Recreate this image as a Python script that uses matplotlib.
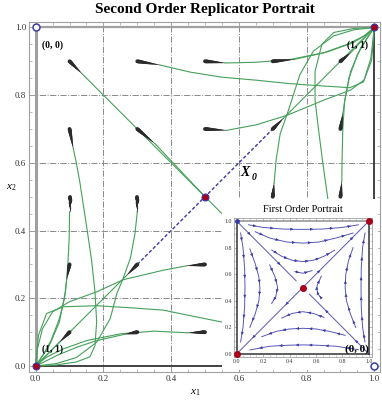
import matplotlib
matplotlib.use("Agg")
import matplotlib.pyplot as plt
from matplotlib.collections import LineCollection
from matplotlib.patches import Rectangle
import numpy as np

plt.rcParams['font.family'] = ['Liberation Serif', 'DejaVu Serif']
plt.rcParams['mathtext.fontset'] = 'custom'
plt.rcParams['mathtext.rm'] = 'Liberation Serif'
plt.rcParams['mathtext.it'] = 'Liberation Serif:italic'

# ---- data: second order trajectories (x list, y list) ----
path_01_09 = [[0.136, 0.60], [0.864, 0.40]]
path_03_07 = [[0.352, 0.50], [0.657, 0.50]]
path_03_09 = [[0.367, 0.456, 0.55, 0.653, 0.75, 0.849, 0.928, 0.968, 0.992, 1.0],
              [0.889, 0.868, 0.853, 0.844, 0.834, 0.827, 0.822, 0.839, 0.903, 1.0]]
path_05_09 = [[0.56, 0.65, 0.75, 0.85, 0.92, 0.97, 1.0],
              [0.895, 0.897, 0.905, 0.925, 0.95, 0.975, 1.0]]
path_07_09 = [[0.761, 0.859, 0.938, 0.975, 1.0],
              [0.905, 0.927, 0.955, 0.978, 1.0]]
path_09_09 = [[0.93, 1.0], [0.925, 1.0]]
path_05_07 = [[0.564, 0.65, 0.741, 0.85, 0.93, 0.97, 0.99, 1.0],
              [0.696, 0.712, 0.74, 0.785, 0.815, 0.845, 0.91, 1.0]]
path_07_07 = [[0.731, 1.0], [0.731, 1.0]]
path_09_07 = [[0.907, 0.913, 0.925, 0.95, 0.98, 1.0],
              [0.745, 0.785, 0.85, 0.92, 0.97, 1.0]]
path_07_05 = [[0.704, 0.710, 0.722, 0.743, 0.756, 0.78, 0.82, 0.88, 0.94, 1.0],
              [0.539, 0.608, 0.686, 0.745, 0.785, 0.86, 0.93, 0.975, 0.993, 1.0]]
path_09_05 = [[0.904, 0.905, 0.907, 0.912, 0.93, 0.96, 1.0],
              [0.544, 0.62, 0.70, 0.78, 0.87, 0.94, 1.0]]
path_09_03 = [[0.87, 0.864, 0.848, 0.835, 0.825, 0.825, 0.845, 0.88, 0.94, 1.0],
              [0.40, 0.485, 0.599, 0.70, 0.785, 0.87, 0.95, 0.985, 0.997, 1.0]]
path_01_07 = [[0.111, 0.12, 0.131, 0.152, 0.165, 0.175, 0.18, 0.175, 0.16, 0.12, 0.06, 0.0],
              [0.642, 0.60, 0.539, 0.401, 0.313, 0.22, 0.13, 0.06, 0.027, 0.012, 0.003, 0.0]]
path_01_05 = [[0.1, 0.099, 0.095, 0.088, 0.07, 0.04, 0.0],
              [0.455, 0.38, 0.30, 0.22, 0.13, 0.06, 0.0]]
path_03_05 = [[0.3, 0.293, 0.28, 0.257, 0.24, 0.22, 0.18, 0.12, 0.06, 0.0],
              [0.455, 0.39, 0.32, 0.255, 0.215, 0.14, 0.07, 0.025, 0.007, 0.0]]
path_01_03 = [[0.092, 0.085, 0.07, 0.045, 0.02, 0.0],
              [0.258, 0.20, 0.14, 0.075, 0.03, 0.0]]
path_03_03 = [[0.269, 0.0], [0.268, 0.0]]
path_05_03 = [[0.446, 0.377, 0.259, 0.18, 0.10, 0.05, 0.02, 0.005, 0.0],
              [0.296, 0.283, 0.255, 0.219, 0.19, 0.16, 0.11, 0.05, 0.0]]
path_01_01 = [[0.072, 0.0], [0.072, 0.0]]
path_03_01 = [[0.264, 0.18, 0.12, 0.06, 0.025, 0.0],
              [0.094, 0.075, 0.055, 0.03, 0.012, 0.0]]
path_05_01 = [[0.45, 0.35, 0.25, 0.15, 0.08, 0.03, 0.0],
              [0.098, 0.103, 0.095, 0.075, 0.05, 0.025, 0.0]]
path_07_01 = [[0.60, 0.544, 0.45, 0.377, 0.28, 0.18, 0.082, 0.032, 0.008, 0.0],
              [0.12, 0.131, 0.15, 0.165, 0.172, 0.178, 0.175, 0.155, 0.09, 0.0]]

# comets: start point and tip (initial velocity)
comet_x0 = [0.1, 0.3, 0.5, 0.7, 0.9, 0.1, 0.3, 0.5, 0.7, 0.9, 0.1, 0.3, 0.7, 0.9,
            0.1, 0.3, 0.5, 0.1, 0.3, 0.5]
comet_y0 = [0.9, 0.9, 0.9, 0.9, 0.9, 0.7, 0.7, 0.7, 0.7, 0.7, 0.5, 0.5, 0.5, 0.5,
            0.3, 0.3, 0.3, 0.1, 0.1, 0.1]
comet_x1 = [0.136, 0.367, 0.56, 0.761, 0.93, 0.111, 0.352, 0.564, 0.731, 0.907,
            0.1, 0.3, 0.704, 0.904, 0.092, 0.269, 0.446, 0.072, 0.264, 0.45]
comet_y1 = [0.864, 0.889, 0.895, 0.905, 0.925, 0.642, 0.657, 0.696, 0.731, 0.745,
            0.455, 0.455, 0.539, 0.544, 0.258, 0.268, 0.296, 0.072, 0.094, 0.098]

rest_x = [0.0, 1.0, 0.5]
rest_y = [0.0, 1.0, 0.5]
open_x = [0.0, 1.0]
open_y = [1.0, 0.0]
ticks = [0.0, 0.2, 0.4, 0.6, 0.8, 1.0]
tick_labels = ['0.0', '0.2', '0.4', '0.6', '0.8', '1.0']

# ---- first order portrait (inset) streamlines, in flow direction ----
arc_top1 = [[0.09, 0.2, 0.35, 0.5, 0.65, 0.8, 0.92], [0.972, 0.952, 0.94, 0.937, 0.94, 0.952, 0.972]]
arc_top2 = [[0.14, 0.25, 0.38, 0.5, 0.62, 0.75, 0.88], [0.92, 0.872, 0.842, 0.834, 0.842, 0.872, 0.91]]
arc_top3 = [[0.265, 0.34, 0.42, 0.5, 0.58, 0.66, 0.74], [0.782, 0.735, 0.705, 0.695, 0.705, 0.735, 0.78]]
arc_top4 = [[0.44, 0.5, 0.57], [0.62, 0.607, 0.627]]
arc_bot3 = [[0.66, 0.58, 0.5, 0.42, 0.34], [0.275, 0.305, 0.318, 0.305, 0.27]]
arc_bot2 = [[0.82, 0.7, 0.6, 0.5, 0.4, 0.3, 0.19], [0.14, 0.17, 0.188, 0.193, 0.188, 0.17, 0.13]]
arc_bot1 = [[0.92, 0.75, 0.6, 0.5, 0.4, 0.25, 0.10], [0.032, 0.058, 0.066, 0.068, 0.066, 0.058, 0.03]]
arc_left1 = [[0.03, 0.048, 0.06, 0.063, 0.06, 0.048, 0.03], [0.91, 0.8, 0.65, 0.5, 0.35, 0.2, 0.09]]
arc_left2 = [[0.1, 0.14, 0.168, 0.176, 0.168, 0.14, 0.1], [0.79, 0.68, 0.58, 0.494, 0.40, 0.30, 0.2]]
arc_left3 = [[0.25, 0.29, 0.31, 0.295, 0.265], [0.67, 0.58, 0.5, 0.43, 0.38]]
arc_right3 = [[0.64, 0.615, 0.605, 0.61, 0.64], [0.42, 0.45, 0.49, 0.52, 0.585]]
arc_right2 = [[0.9, 0.86, 0.83, 0.82, 0.825, 0.845, 0.88], [0.2, 0.3, 0.4, 0.5, 0.6, 0.7, 0.8]]
arc_right1 = [[0.97, 0.952, 0.942, 0.94, 0.942, 0.952, 0.97], [0.09, 0.2, 0.35, 0.5, 0.65, 0.8, 0.91]]
arc_anti1 = [[0.0, 0.2, 0.45], [1.0, 0.8, 0.55]]
arc_anti2 = [[1.0, 0.8, 0.55], [0.0, 0.2, 0.45]]
arc_diag1 = [[0.5, 0.75, 1.0], [0.5, 0.75, 1.0]]
arc_diag2 = [[0.5, 0.25, 0.0], [0.5, 0.25, 0.0]]

GREEN = '#45a05a'
BLUE = '#3a3aa8'
RED = '#a8001c'
COMET = '#2b2b2b'

fig = plt.figure(figsize=(3.82, 4.03), dpi=100)
ax = fig.add_axes([29 / 382, 1 - 372 / 403, 351 / 382, 350 / 403])
ax.set_xlim(-0.0198, 1.0168)
ax.set_ylim(-0.0177, 1.016)

for s in ax.spines.values():
    s.set_color('#a0a0a0')
    s.set_linewidth(0.8)
ax.set_xticks(ticks)
ax.set_xticklabels(tick_labels)
ax.set_yticks(ticks)
ax.set_yticklabels(tick_labels)
ax.set_xticks(np.arange(0, 1.01, 0.05), minor=True)
ax.set_yticks(np.arange(0, 1.01, 0.05), minor=True)
ax.tick_params(which='both', direction='in', top=True, right=True, colors='#a0a0a0',
               labelcolor='#333333', labelsize=6.5, pad=2)
ax.tick_params(which='major', length=4, width=0.6)
ax.tick_params(which='minor', length=2, width=0.5)

# grid
for g in ticks[1:-1]:
    ax.axvline(g, color='#8a8a8a', lw=0.7, ls='-.', zorder=1)
    ax.axhline(g, color='#8a8a8a', lw=0.7, ls='-.', zorder=1)

# simplex boundary
ax.plot([0, 0], [0, 1], color='#a0a0a0', lw=2.2, zorder=2, solid_capstyle='butt')
ax.plot([0, 1], [1, 1], color='#a0a0a0', lw=1.6, zorder=2, solid_capstyle='butt')
ax.plot([0, 1], [0, 0], color='#333333', lw=1.3, zorder=2, solid_capstyle='butt')
ax.plot([1, 1], [0, 1], color='#333333', lw=1.3, zorder=2, solid_capstyle='butt')

# X0 diagonal
ax.plot([0.3, 0.7], [0.3, 0.7], color=BLUE, lw=1.0, ls=(0, (2.5, 1.5)), zorder=3)

main_paths = [path_01_09, path_03_07, path_03_09, path_05_09, path_07_09, path_09_09,
              path_05_07, path_07_07, path_09_07, path_07_05, path_09_05, path_09_03,
              path_01_07, path_01_05, path_03_05, path_01_03, path_03_03, path_05_03,
              path_01_01, path_03_01, path_05_01, path_07_01]
for px, py in main_paths:
    ax.plot(px, py, color=GREEN, lw=0.8, zorder=4)

# comets: tapered strokes
for x0, y0, x1, y1 in zip(comet_x0, comet_y0, comet_x1, comet_y1):
    n = 16
    xs = np.linspace(x0, x1, n + 1)
    ys = np.linspace(y0, y1, n + 1)
    segs = [[(xs[i], ys[i]), (xs[i + 1], ys[i + 1])] for i in range(n)]
    widths = np.linspace(2.8, 0.3, n)
    ax.add_collection(LineCollection(segs, linewidths=widths, colors=COMET,
                                     capstyle='round', zorder=5))

ax.plot(rest_x, rest_y, 'o', ms=5, mfc=RED, mec=BLUE, mew=0.8, zorder=7, clip_on=False)
ax.plot(open_x[:1], open_y[:1], 'o', ms=5, mfc='white', mec=BLUE, mew=1.1, zorder=7, clip_on=False)

ax.text(0.05, 0.947, '(0, 0)', fontsize=7, fontweight='bold', ha='center', va='center', zorder=8)
ax.text(0.949, 0.947, '(1, 1)', fontsize=7, fontweight='bold', ha='center', va='center', zorder=8)
ax.text(0.05, 0.05, '(1, 1)', fontsize=7, fontweight='bold', ha='center', va='center', zorder=8)
ax.text(0.605, 0.572, 'X', fontsize=10, fontweight='bold', style='italic', ha='left',
        va='center', zorder=8)
ax.text(0.638, 0.557, '0', fontsize=7, fontweight='bold', style='italic', ha='left',
        va='center', zorder=8)

ax.set_xlabel('$x_1$', fontsize=8, labelpad=1)
ax.xaxis.set_label_coords(0.475, -0.045)
ax.set_ylabel('$x_2$', fontsize=8, rotation=0, labelpad=1, va='center')
ax.yaxis.set_label_coords(-0.05, 0.527)

fig.suptitle('Second Order Replicator Portrait', x=205 / 382, y=1 - 3 / 403, va='top',
             fontsize=11, fontweight='bold')

# white area behind the inset
fig.add_artist(Rectangle((222 / 382, 1 - 370 / 403), 156 / 382, 171 / 403,
                         transform=fig.transFigure, facecolor='white', edgecolor='none',
                         zorder=1))

# ---- inset ----
ins = fig.add_axes([234 / 382, 1 - 357 / 403, 138 / 382, 139 / 403], zorder=2)
ins.set_xlim(-0.02, 1.023)
ins.set_ylim(-0.023, 1.023)
for s in ins.spines.values():
    s.set_color('#a0a0a0')
    s.set_linewidth(0.6)
ins.set_xticks(ticks)
ins.set_xticklabels(tick_labels)
ins.set_yticks(ticks)
ins.set_yticklabels(tick_labels)
ins.set_xticks(np.arange(0, 1.01, 0.05), minor=True)
ins.set_yticks(np.arange(0, 1.01, 0.05), minor=True)
ins.tick_params(which='both', direction='in', top=True, right=True, colors='#a0a0a0',
                labelcolor='#333333', labelsize=4.2, pad=1.5)
ins.tick_params(which='major', length=2.5, width=0.5)
ins.tick_params(which='minor', length=1.2, width=0.4)
ins.set_title('First Order Portrait', fontsize=7.5, pad=4)

ins.plot([0, 1], [1, 1], color='#909090', lw=1.1, zorder=2)
ins.plot([0, 0], [0, 1], color='#333333', lw=1.1, zorder=2)
ins.plot([0, 1], [0, 0], color='#333333', lw=1.1, zorder=2)
ins.plot([1, 1], [0, 1], color='#333333', lw=1.1, zorder=2)

arcs = [arc_top1, arc_top2, arc_top3, arc_top4, arc_bot3, arc_bot2, arc_bot1,
        arc_left1, arc_left2, arc_left3, arc_right3, arc_right2, arc_right1,
        arc_anti1, arc_anti2, arc_diag1, arc_diag2]
for ax_, ay_ in arcs:
    ins.plot(ax_, ay_, color=BLUE, lw=0.7, alpha=0.85, zorder=3)
    for i in range(len(ax_) - 1):
        mx = (ax_[i] + ax_[i + 1]) / 2
        my = (ay_[i] + ay_[i + 1]) / 2
        dx = ax_[i + 1] - ax_[i]
        dy = ay_[i + 1] - ay_[i]
        ins.annotate('', xy=(mx + 0.02 * dx, my + 0.02 * dy), xytext=(mx, my),
                     arrowprops=dict(arrowstyle='-|>', color=BLUE, lw=0.4,
                                     mutation_scale=4, shrinkA=0, shrinkB=0), zorder=4)

ins.plot(rest_x, rest_y, 'o', ms=4, mfc=RED, mec=RED, zorder=6, clip_on=False)
ins.plot(open_x[:1], open_y[:1], 'o', ms=2.5, mfc=BLUE, mec=BLUE, zorder=6, clip_on=False)
ins.text(0.91, 0.035, '(0, 0)', fontsize=8, fontweight='bold', ha='center', va='center',
         zorder=7)
ins.plot(open_x[1:], open_y[1:], 'o', ms=5, mfc='white', mec=BLUE, mew=1.1, zorder=8,
         clip_on=False, transform=ax.transData)

fig.savefig('out.png', dpi=100)
